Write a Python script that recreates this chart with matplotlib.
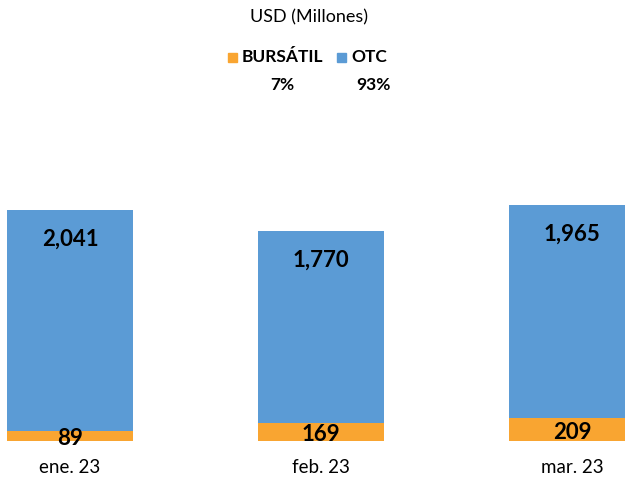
import matplotlib.pyplot as plt
from matplotlib.patches import Rectangle

plt.rcParams['font.family'] = ['Lato', 'DejaVu Sans']

meses = ['ene. 23', 'feb. 23', 'mar. 23']
bursatil = [89, 169, 209]
otc = [2041, 1770, 1965]
series = ['BURSÁTIL', 'OTC']
porcentajes = ['7%', '93%']

c_bursatil = '#F9A531'
c_otc = '#5B9BD5'

fig = plt.figure(figsize=(6.25, 4.82), dpi=100)
ax = fig.add_axes([0, 41 / 482, 1, 260 / 482])

x = range(len(meses))
ax.bar(x, bursatil, width=0.502, color=c_bursatil)
ax.bar(x, otc, width=0.502, bottom=bursatil, color=c_otc)

ax.set_xlim(-70 / 251, 2 + 304 / 251 - 1)
ax.set_ylim(0, 2400)

for i in x:
    ax.annotate(f'{bursatil[i]:,}', (i, bursatil[i] / 2), ha='center', va='center',
                xytext=(0, -2), textcoords='offset points',
                fontsize=16, fontweight='bold', color='black')
    ax.annotate(f'{otc[i]:,}', (i, bursatil[i] + otc[i]), ha='center', va='center',
                xytext=(0, -21), textcoords='offset points',
                fontsize=16, fontweight='bold', color='black')

ax.set_xticks(list(x))
ax.set_xticklabels(meses, fontsize=13.5)
ax.tick_params(axis='x', length=0, pad=13)
ax.set_yticks([])
for s in ax.spines.values():
    s.set_visible(False)

# titulo y leyenda manual
fig.text(309 / 625, 1 - 17 / 482, 'USD (Millones)', ha='center', va='center', fontsize=13)

leg_x = [228, 337]
colores = [c_bursatil, c_otc]
pct_x = [282, 373]
for nombre, col, lx, px, pct in zip(series, colores, leg_x, pct_x, porcentajes):
    fig.patches.append(Rectangle((lx / 625, 1 - 62 / 482), 9 / 625, 9 / 482,
                                 transform=fig.transFigure, color=col))
    fig.text((lx + 14) / 625, 1 - 57 / 482, nombre, ha='left', va='center',
             fontsize=12.5, fontweight='bold')
    fig.text(px / 625, 1 - 85 / 482, pct, ha='center', va='center',
             fontsize=12.5, fontweight='bold')

plt.savefig('out.png', dpi=100)
